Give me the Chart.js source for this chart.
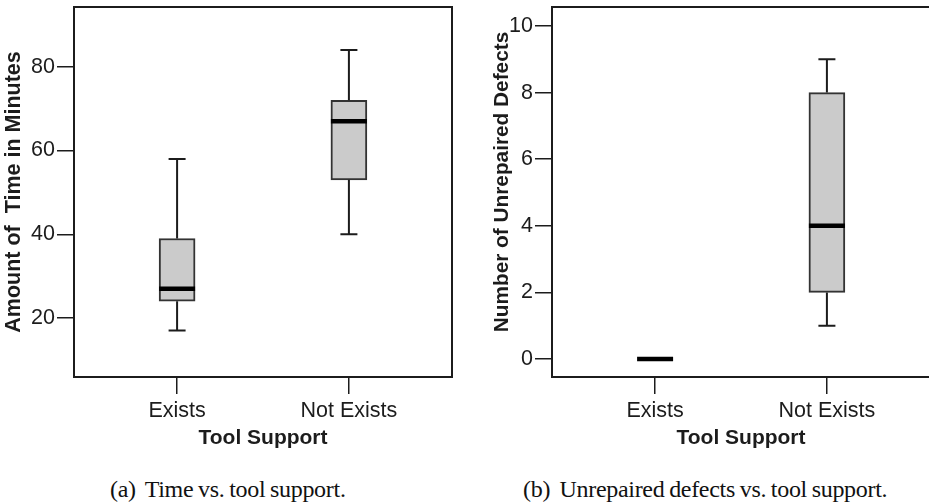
<!DOCTYPE html>
<html>
<head>
<meta charset="utf-8">
<script src="https://cdn.jsdelivr.net/npm/chart.js@4"></script>
<style>
    html, body {
        margin: 0;
        padding: 0;
        background: #ffffff;
    }
    #page {
        position: relative;
        width: 929px;
        height: 503px;
        overflow: hidden;
        background: #ffffff;
    }
    canvas {
        position: absolute;
        top: 0;
    }
    #chart-a { left: 0; }
    #chart-b { left: 488px; }
    .caption {
        position: absolute;
        top: 477px;
        font-family: "Liberation Serif", "Times New Roman", serif;
        font-size: 24px;
        line-height: 24px;
        letter-spacing: -0.3px;
        word-spacing: -1px;
        color: #111;
        white-space: pre;
    }
</style>
</head>
<body>
<div id="page">
    <canvas id="chart-a" width="465" height="455"></canvas>
    <canvas id="chart-b" width="446" height="455"></canvas>
    <div class="caption" style="left:110px">(a)  Time vs. tool support.</div>
    <div class="caption" style="left:523px">(b)  Unrepaired defects vs. tool support.</div>
</div>
<script>
// categories on the x axis
const categories = ["Exists", "Not Exists"];

// (a) time in minutes
const timeMin = [17, 40];
const timeQ1 = [24, 53];
const timeMedian = [27, 67];
const timeQ3 = [39, 72];
const timeMax = [58, 84];
const timeTicks = [20, 40, 60, 80];

// (b) unrepaired defects
const defectMin = [0, 1];
const defectQ1 = [0, 2];
const defectMedian = [0, 4];
const defectQ3 = [0, 8];
const defectMax = [0, 9];
const defectTicks = [0, 2, 4, 6, 8, 10];

const INK = "#1c1c1c";
const SANS = "'Liberation Sans', Arial, Helvetica, sans-serif";

// whiskers, caps and medians, placed through the chart's scales
const boxWhiskerPlugin = {
    id: "boxWhisker",
    afterDatasetsDraw(chart, args, opts) {
        const { ctx } = chart;
        const xs = chart.scales.x;
        const ys = chart.scales.y;
        ctx.save();
        opts.median.forEach((med, i) => {
            const x = xs.getPixelForValue(i + 1);
            const yMin = ys.getPixelForValue(opts.min[i]);
            const yQ1 = ys.getPixelForValue(opts.q1[i]);
            const yQ3 = ys.getPixelForValue(opts.q3[i]);
            const yMax = ys.getPixelForValue(opts.max[i]);
            const yMed = ys.getPixelForValue(med);

            ctx.strokeStyle = INK;
            ctx.lineWidth = 2;
            ctx.beginPath();
            if (opts.max[i] > opts.q3[i]) {
                ctx.moveTo(x, yQ3);
                ctx.lineTo(x, yMax);
                ctx.moveTo(x - 8.5, yMax);
                ctx.lineTo(x + 8.5, yMax);
            }
            if (opts.min[i] < opts.q1[i]) {
                ctx.moveTo(x, yQ1);
                ctx.lineTo(x, yMin);
                ctx.moveTo(x - 8.5, yMin);
                ctx.lineTo(x + 8.5, yMin);
            }
            ctx.stroke();

            ctx.strokeStyle = "#000000";
            ctx.lineWidth = 4.5;
            ctx.beginPath();
            ctx.moveTo(x - 18, yMed);
            ctx.lineTo(x + 18, yMed);
            ctx.stroke();
        });
        ctx.restore();
    }
};

// frame round the plot area and the rotated y title
const framePlugin = {
    id: "frame",
    afterDraw(chart, args, opts) {
        const { ctx, chartArea } = chart;
        ctx.save();
        ctx.strokeStyle = INK;
        ctx.lineWidth = 2;
        ctx.strokeRect(chartArea.left, chartArea.top,
            chartArea.right - chartArea.left, chartArea.bottom - chartArea.top);

        const ys = chart.scales.y;
        const midY = (ys.top + ys.bottom) / 2 + opts.titleShift;
        ctx.translate(ys.left + 14, midY);
        ctx.rotate(-Math.PI / 2);
        ctx.fillStyle = INK;
        ctx.font = "bold " + opts.titleSize + "px " + SANS;
        ctx.textAlign = "center";
        ctx.textBaseline = "middle";
        ctx.fillText(opts.title, 0, 0);
        ctx.restore();
    }
};

function renderBoxChart(canvasId, cfg) {
    const boxes = categories.map((c, i) => ({
        x: i + 1,
        y: [cfg.q1[i], cfg.q3[i]]
    }));
    const ctx = document.getElementById(canvasId).getContext("2d");
    return new Chart(ctx, {
        type: "bar",
        data: {
            datasets: [{
                data: boxes,
                backgroundColor: "#cbcbcb",
                borderColor: "#333333",
                borderWidth: 2,
                borderSkipped: false,
                barThickness: 36
            }]
        },
        options: {
            responsive: false,
            animation: false,
            devicePixelRatio: 1,
            layout: {
                padding: { top: 7, right: cfg.padRight, bottom: 0, left: 0 }
            },
            plugins: {
                legend: { display: false },
                tooltip: { enabled: false },
                boxWhisker: {
                    min: cfg.min,
                    q1: cfg.q1,
                    median: cfg.median,
                    q3: cfg.q3,
                    max: cfg.max
                },
                frame: {
                    title: cfg.yTitle,
                    titleSize: cfg.titleSize,
                    titleShift: cfg.titleShift
                }
            },
            scales: {
                x: {
                    type: "linear",
                    min: 0.4,
                    max: 2.6,
                    offset: false,
                    afterBuildTicks: (scale) => {
                        scale.ticks = categories.map((c, i) => ({ value: i + 1 }));
                    },
                    afterFit: (scale) => {
                        scale.height = 78;
                        scale.paddingLeft = 0;
                        scale.paddingRight = 0;
                    },
                    ticks: {
                        autoSkip: false,
                        maxRotation: 0,
                        padding: 4,
                        color: INK,
                        font: { family: SANS, size: 21.5 },
                        callback: (v) => categories[v - 1]
                    },
                    grid: {
                        offset: false,
                        drawOnChartArea: false,
                        drawTicks: true,
                        tickLength: 17,
                        color: INK,
                        lineWidth: 1.5
                    },
                    border: { display: false },
                    title: {
                        display: true,
                        text: "Tool Support",
                        color: INK,
                        padding: { top: 0, bottom: 4 },
                        font: { family: SANS, size: 21, weight: "bold" }
                    }
                },
                y: {
                    min: cfg.yMin,
                    max: cfg.yMax,
                    afterBuildTicks: (scale) => {
                        scale.ticks = cfg.ticks.map((v) => ({ value: v }));
                    },
                    afterFit: (scale) => {
                        scale.width = cfg.yWidth;
                        scale.paddingTop = 0;
                        scale.paddingBottom = 0;
                    },
                    ticks: {
                        padding: 2,
                        color: INK,
                        font: { family: SANS, size: 21.5 }
                    },
                    grid: {
                        drawOnChartArea: false,
                        drawTicks: true,
                        tickLength: 17,
                        color: INK,
                        lineWidth: 1.5
                    },
                    border: { display: false }
                }
            }
        },
        plugins: [boxWhiskerPlugin, framePlugin]
    });
}

renderBoxChart("chart-a", {
    min: timeMin,
    q1: timeQ1,
    median: timeMedian,
    q3: timeQ3,
    max: timeMax,
    ticks: timeTicks,
    yMin: 5.9,
    yMax: 94.3,
    yWidth: 74,
    padRight: 13,
    yTitle: "Amount of  Time in Minutes",
    titleSize: 21.5,
    titleShift: 0
});

renderBoxChart("chart-b", {
    min: defectMin,
    q1: defectQ1,
    median: defectMedian,
    q3: defectQ3,
    max: defectMax,
    ticks: defectTicks,
    yMin: -0.54,
    yMax: 10.57,
    yWidth: 64,
    padRight: 4,
    yTitle: "Number of Unrepaired Defects",
    titleSize: 20.8,
    titleShift: -10
});
</script>
</body>
</html>
